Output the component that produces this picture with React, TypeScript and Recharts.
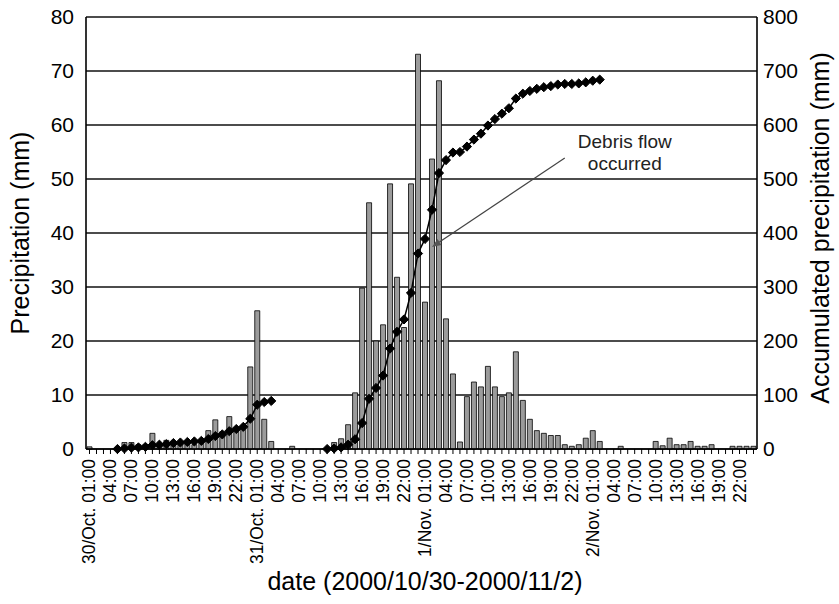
import React from "react";
import {
  Bar,
  CartesianGrid,
  ComposedChart,
  Line,
  ReferenceLine,
  XAxis,
  YAxis,
} from "recharts";

// Hourly rainfall 30 Oct - 2 Nov 2000, one category per hour.
const DAYS = ["30/Oct.", "31/Oct.", "1/Nov.", "2/Nov."];
const HOURS = [
  "01:00", "02:00", "03:00", "04:00", "05:00", "06:00", "07:00", "08:00",
  "09:00", "10:00", "11:00", "12:00", "13:00", "14:00", "15:00", "16:00",
  "17:00", "18:00", "19:00", "20:00", "21:00", "22:00", "23:00", "24:00",
];

// mm per hour (0 = no bar drawn)
const PRECIP_MM = [
  // 30/Oct
  0.4, 0, 0, 0, 0, 1.2, 1.2, 0.8, 0.8, 2.9, 0.8, 1.6,
  1.4, 1.2, 1.0, 0.8, 1.4, 3.4, 5.4, 3.2, 6.0, 4.0, 4.0, 15.2,
  // 31/Oct
  25.6, 5.5, 1.4, 0, 0, 0.5, 0, 0, 0, 0, 0, 1.2,
  1.9, 4.5, 10.4, 29.8, 45.6, 20, 23, 49.1, 31.8, 22.5, 49.1, 73.1,
  // 1/Nov
  27.2, 53.7, 68.2, 24.1, 13.9, 1.3, 9.7, 12.4, 11.5, 15.3, 11.5, 9.7,
  10.4, 18, 9, 5.5, 3.4, 2.9, 2.5, 2.5, 0.8, 0.5, 0.8, 2.0,
  // 2/Nov
  3.4, 1.4, 0, 0, 0.5, 0, 0, 0, 0, 1.4, 0.6, 2.0,
  0.8, 0.8, 1.4, 0.5, 0.5, 0.8, 0, 0, 0.5, 0.5, 0.5, 0.5,
];

// accumulated precipitation markers (right axis), two rain events
const CUM_START_1 = 4;
const CUM_EVENT_1 = [
  0, 1, 2.5, 3, 4, 7, 8, 9, 11, 12, 13, 14, 15, 18.5, 24, 27, 33, 37, 41,
  56, 82, 87, 89,
];
const CUM_START_2 = 34;
const CUM_EVENT_2 = [
  0, 1, 3, 8, 18, 48, 93, 113, 136, 186, 217, 240, 289, 362, 389, 443, 511,
  535, 549, 550, 560, 573, 584, 599, 611, 621, 631, 649, 658, 663, 667, 670,
  672, 675, 676, 676, 677, 679, 682, 684,
];

const LEFT_TICKS = [0, 10, 20, 30, 40, 50, 60, 70, 80];
const RIGHT_TICKS = [0, 100, 200, 300, 400, 500, 600, 700, 800];

// annotation: [hour index, accumulated mm]
const ARROW_FROM = [68, 539];
const ARROW_TO = [49, 374];

const FONT = "'Liberation Sans', Arial, sans-serif";

type Row = {
  cat: string;
  hour: string;
  first: boolean;
  show: boolean;
  precip: number | null;
  cum: number | null;
};

const rows: Row[] = [];
DAYS.forEach((day, d) => {
  HOURS.forEach((hour, h) => {
    const i = d * 24 + h;
    let cum: number | null = null;
    if (i >= CUM_START_1 && i < CUM_START_1 + CUM_EVENT_1.length) {
      cum = CUM_EVENT_1[i - CUM_START_1];
    }
    if (i >= CUM_START_2 && i < CUM_START_2 + CUM_EVENT_2.length) {
      cum = CUM_EVENT_2[i - CUM_START_2];
    }
    rows.push({
      cat: `${day} ${hour}`,
      hour,
      first: h === 0,
      show: i % 3 === 0,
      precip: PRECIP_MM[i] > 0 ? PRECIP_MM[i] : null,
      cum,
    });
  });
});
const rowByCat = new Map(rows.map((r) => [r.cat, r]));

function HourTick(props: any) {
  const { x, y, payload } = props;
  const row = rowByCat.get(payload.value);
  if (!row || !row.show) return <g />;
  const tx = x + 6;
  const ty = y + 3;
  return (
    <text
      x={tx}
      y={ty}
      transform={`rotate(-90 ${tx} ${ty})`}
      textAnchor="end"
      fontSize={17.5}
      fontFamily={FONT}
      fill="#000"
    >
      {row.first ? row.cat : row.hour}
    </text>
  );
}

function Diamond(props: any) {
  const { cx, cy, index } = props;
  if (cx == null || cy == null || props.value == null) return <g key={index} />;
  const r = 4.6;
  return (
    <polygon
      key={index}
      points={`${cx},${cy - r} ${cx + r},${cy} ${cx},${cy + r} ${cx - r},${cy}`}
      fill="#000"
      stroke="#000"
      strokeWidth={1}
    />
  );
}

function DebrisArrow(props: any) {
  const { x1, y1, x2, y2 } = props;
  const ang = Math.atan2(y2 - y1, x2 - x1);
  const len = 9;
  const half = 3.5;
  const bx = x2 - len * Math.cos(ang);
  const by = y2 - len * Math.sin(ang);
  const px = -Math.sin(ang) * half;
  const py = Math.cos(ang) * half;
  return (
    <g>
      <line x1={x1} y1={y1} x2={bx} y2={by} stroke="#444" strokeWidth={1.2} />
      <polygon
        points={`${x2},${y2} ${bx + px},${by + py} ${bx - px},${by - py}`}
        fill="#555"
      />
      <text x={x1 + 60} y={y1 - 10} textAnchor="middle" fontSize={19} fontFamily={FONT} fill="#222">
        Debris flow
      </text>
      <text x={x1 + 60} y={y1 + 12} textAnchor="middle" fontSize={19} fontFamily={FONT} fill="#222">
        occurred
      </text>
    </g>
  );
}

export default function App() {
  return (
    <div
      style={{
        position: "absolute",
        left: 0,
        top: 0,
        width: 839,
        height: 604,
        background: "#fff",
        fontFamily: FONT,
      }}
    >
      <ComposedChart
        width={839}
        height={604}
        data={rows}
        margin={{ top: 17, right: 0, bottom: 0, left: 0 }}
      >
        <CartesianGrid
          yAxisId="left"
          vertical={false}
          stroke="#111"
          strokeWidth={1.6}
        />
        <XAxis
          dataKey="cat"
          interval={0}
          height={155}
          tick={<HourTick />}
          tickSize={5}
          tickLine={{ stroke: "#000", strokeWidth: 1 }}
          axisLine={{ stroke: "#000", strokeWidth: 1.6 }}
        />
        <YAxis
          yAxisId="left"
          width={86}
          domain={[0, 80]}
          ticks={LEFT_TICKS}
          tickLine={false}
          tickSize={0}
          tickMargin={12}
          axisLine={{ stroke: "#000", strokeWidth: 1.6 }}
          tick={{ fontSize: 21, fill: "#000", fontFamily: FONT }}
        />
        <YAxis
          yAxisId="right"
          orientation="right"
          width={82}
          domain={[0, 800]}
          ticks={RIGHT_TICKS}
          tickLine={false}
          tickSize={0}
          tickMargin={6}
          axisLine={{ stroke: "#000", strokeWidth: 1.6 }}
          tick={{ fontSize: 21, fill: "#000", fontFamily: FONT, textAnchor: "start" }}
        />
        <Bar
          yAxisId="left"
          dataKey="precip"
          barSize={5}
          fill="#9b9b9b"
          stroke="#000"
          strokeWidth={0.8}
          isAnimationActive={false}
        />
        <Line
          yAxisId="right"
          dataKey="cum"
          stroke="#000"
          strokeWidth={1.5}
          dot={<Diamond />}
          activeDot={false}
          connectNulls={false}
          isAnimationActive={false}
        />
        <ReferenceLine
          yAxisId="right"
          ifOverflow="visible"
          segment={[
            { x: rows[ARROW_FROM[0]].cat, y: ARROW_FROM[1] },
            { x: rows[ARROW_TO[0]].cat, y: ARROW_TO[1] },
          ]}
          shape={DebrisArrow}
        />
      </ComposedChart>
      <svg
        width={839}
        height={604}
        style={{ position: "absolute", left: 0, top: 0, pointerEvents: "none" }}
      >
        <text
          x={29}
          y={233}
          transform="rotate(-90 29 233)"
          textAnchor="middle"
          fontSize={25}
          fontFamily={FONT}
          fill="#000"
        >
          Precipitation (mm)
        </text>
        <text
          x={829}
          y={228}
          transform="rotate(-90 829 228)"
          textAnchor="middle"
          fontSize={25}
          fontFamily={FONT}
          fill="#000"
        >
          Accumulated precipitation (mm)
        </text>
        <text
          x={425}
          y={590}
          textAnchor="middle"
          fontSize={25}
          fontFamily={FONT}
          fill="#000"
        >
          date (2000/10/30-2000/11/2)
        </text>
      </svg>
    </div>
  );
}
